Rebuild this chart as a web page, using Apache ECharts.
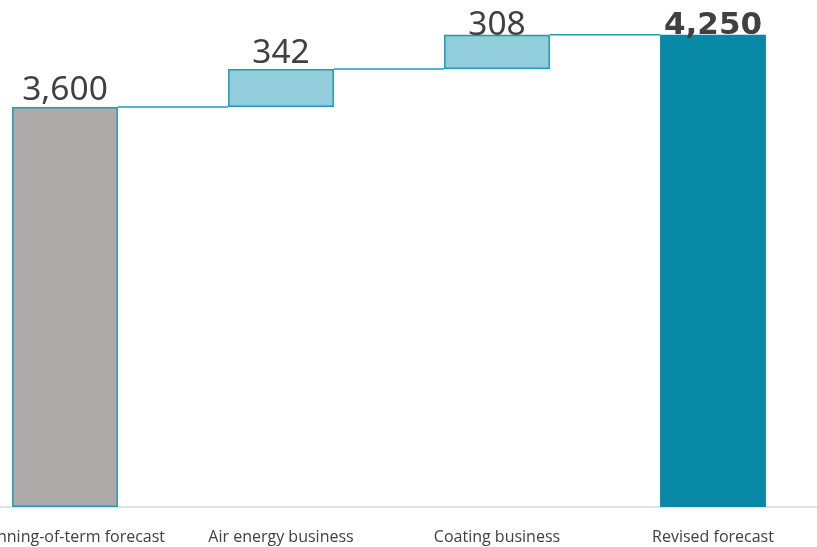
<!DOCTYPE html>
<html><head><meta charset="utf-8">
<script src="https://cdn.jsdelivr.net/npm/echarts@6/dist/echarts.min.js"></script>
<style>html,body{margin:0;padding:0;background:#fff;overflow:hidden;width:817px;height:547px;position:relative}#c{position:absolute;left:-43px;top:0;width:870px;height:547px}</style>
</head><body><div id="c"></div>
<script>
const categories = ['Beginning-of-term forecast', 'Air energy business', 'Coating business', 'Revised forecast'];
const values = [3600, 342, 308, 4250];
const isTotal = [true, false, false, true];
const labelTexts = ['3,600', '342', '308', '4,250'];

const bases = [];
let running = 0;
values.forEach((v, i) => {
  if (isTotal[i]) { bases.push(0); running = v; }
  else { bases.push(running); running += v; }
});
const tops = values.map((v, i) => bases[i] + v);

const fills = ['#aeaaaa', '#92cddc', '#92cddc', '#0789a6'];
const borderC = '#1f9ab6';
const labelDist = [0, -1, -8, -7];

const chart = echarts.init(document.getElementById('c'));
chart.setOption({
  animation: false,
  grid: { left: 0, right: 6, top: 7, bottom: 40 },
  xAxis: {
    type: 'category', data: categories,
    axisLine: { lineStyle: { color: '#d9d9d9', width: 1.5 } },
    axisTick: { show: false },
    axisLabel: { color: '#404040', fontFamily: 'Open Sans', fontSize: 16, margin: 22, interval: 0 }
  },
  yAxis: { type: 'value', min: 0, max: 4500, show: false, splitLine: { show: false } },
  series: [
    { type: 'bar', stack: 'w', barWidth: '49%', data: bases,
      itemStyle: { color: 'transparent' }, silent: true },
    { type: 'bar', stack: 'w', barWidth: '49%', z: 2,
      data: values.map((v, i) => ({
        value: v,
        itemStyle: { color: fills[i], borderColor: i === 3 ? fills[i] : borderC, borderWidth: 1.5 },
        label: {
          show: true, position: 'top', distance: labelDist[i],
          formatter: labelTexts[i],
          color: '#404040',
          fontFamily: i === 3 ? 'DejaVu Sans' : 'Noto Sans',
          fontSize: i === 3 ? 31 : 33.5,
          fontWeight: i === 3 ? 'bold' : 'normal'
        }
      }))
    },
    { type: 'custom', z: 1,
      data: tops.slice(0, -1).map((t, i) => [i, t]),
      renderItem: function (params, api) {
        const i = api.value(0), t = api.value(1);
        const bw = api.size([1, 0])[0] * 0.49;
        const p1 = api.coord([i, t]);
        const p2 = api.coord([i + 1, t]);
        return { type: 'line', shape: { x1: p1[0] + bw / 2, y1: p1[1], x2: p2[0] - bw / 2, y2: p2[1] },
          style: { stroke: borderC, lineWidth: 1.5 } };
      }
    }
  ]
});
</script></body></html>
